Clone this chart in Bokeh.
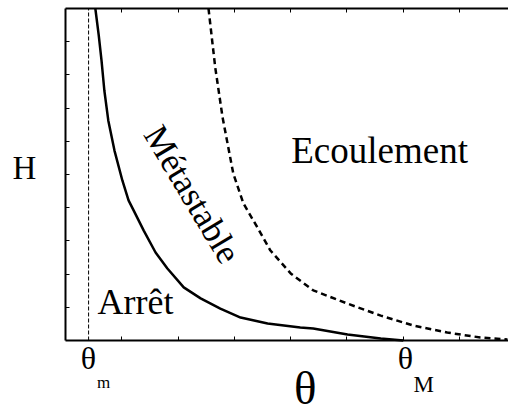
from bokeh.plotting import figure
from bokeh.models import Label, LinearAxis, FixedTicker, Range1d, CustomJSTickFormatter
from bokeh.embed import file_html
from bokeh.resources import INLINE

# Arrest curve (solid): theta vs H
theta_arret = [0.53, 0.59, 0.64, 0.69, 0.76, 0.87, 1.01, 1.12, 1.21, 1.39, 1.60, 1.81, 2.10, 2.40, 2.75, 3.11, 3.59, 4.17, 4.40, 5.01, 5.60, 6.00]
h_arret = [10.0, 9.2, 8.43, 7.53, 6.63, 5.72, 4.82, 4.22, 3.92, 3.31, 2.65, 2.17, 1.60, 1.27, 0.96, 0.69, 0.51, 0.39, 0.36, 0.18, 0.06, 0.0]

# Start / flow curve (dashed)
theta_depart = [2.54, 2.66, 2.79, 2.98, 3.16, 3.41, 3.64, 4.00, 4.40, 5.01, 5.60, 6.18, 6.78, 7.37, 7.85]
h_depart = [10.0, 8.22, 6.72, 5.03, 4.13, 3.40, 2.71, 2.02, 1.51, 1.11, 0.75, 0.45, 0.24, 0.09, 0.03]

theta_m = 0.41
theta_M = 6.0
h_lim = [0, 10]
x_ticks = [1, 2, 3, 4, 5, 6, 7]
y_ticks = [1, 2, 3, 4, 5, 6, 7, 8, 9]

FONT = "Liberation Serif"
X_END = 7.8686

p = figure(width=508, height=414, output_backend="svg", toolbar_location=None,
           x_range=Range1d(-1.1545, X_END), y_range=Range1d(-2.229, 10.241),
           x_axis_location=None, y_axis_location=None,
           min_border_left=0, min_border_right=0, min_border_top=0, min_border_bottom=0)
p.grid.visible = False
p.outline_line_color = None
p.background_fill_color = "white"
p.border_fill_color = "white"


def make_axis(kind, ticks, loc, bounds):
    ax = LinearAxis(fixed_location=loc, bounds=bounds)
    ax.ticker = FixedTicker(ticks=ticks, minor_ticks=[])
    ax.formatter = CustomJSTickFormatter(code="return ''")
    ax.major_tick_in = 4
    ax.major_tick_out = 0
    ax.major_tick_line_width = 1
    ax.major_tick_line_color = "black"
    ax.minor_tick_line_color = None
    ax.major_label_standoff = 0
    ax.axis_line_width = 2
    ax.axis_line_color = "black"
    p.add_layout(ax, kind)
    return ax


make_axis("below", x_ticks, h_lim[0], (0, X_END))
make_axis("above", x_ticks, h_lim[1], (0, X_END))
make_axis("left", y_ticks, 0, (h_lim[0], h_lim[1]))

# theta_m vertical dashed line
p.segment(x0=[theta_m], y0=[h_lim[0]], x1=[theta_m], y1=[h_lim[1]],
          line_color="black", line_width=1, line_dash="4 2")

p.line(theta_arret, h_arret, line_color="black", line_width=2.5)
p.line(theta_depart, h_depart, line_color="black", line_width=2.5, line_dash="6 4")


def lab(x, y, text, size, align="left", angle=0.0):
    p.add_layout(Label(x=x, y=y, text=text, text_font=FONT, text_font_size=size,
                       text_align=align, text_baseline="middle", angle=angle,
                       text_color="black"))


lab(-0.94, 5.21, "H", "33px")
lab(4.26, -1.44, "θ", "47px", align="center")
lab(0.27, -0.54, "θ", "32px")
lab(0.56, -1.26, "m", "17px")
lab(5.90, -0.54, "θ", "32px")
lab(6.18, -1.32, "M", "23px")
lab(0.57, 1.17, "Arrêt", "36px")
lab(4.01, 5.72, "Ecoulement", "37px")
lab(2.25, 4.40, "Métastable", "35px", align="center", angle=-1.03)

open("out.html", "w").write(file_html(p, INLINE))
